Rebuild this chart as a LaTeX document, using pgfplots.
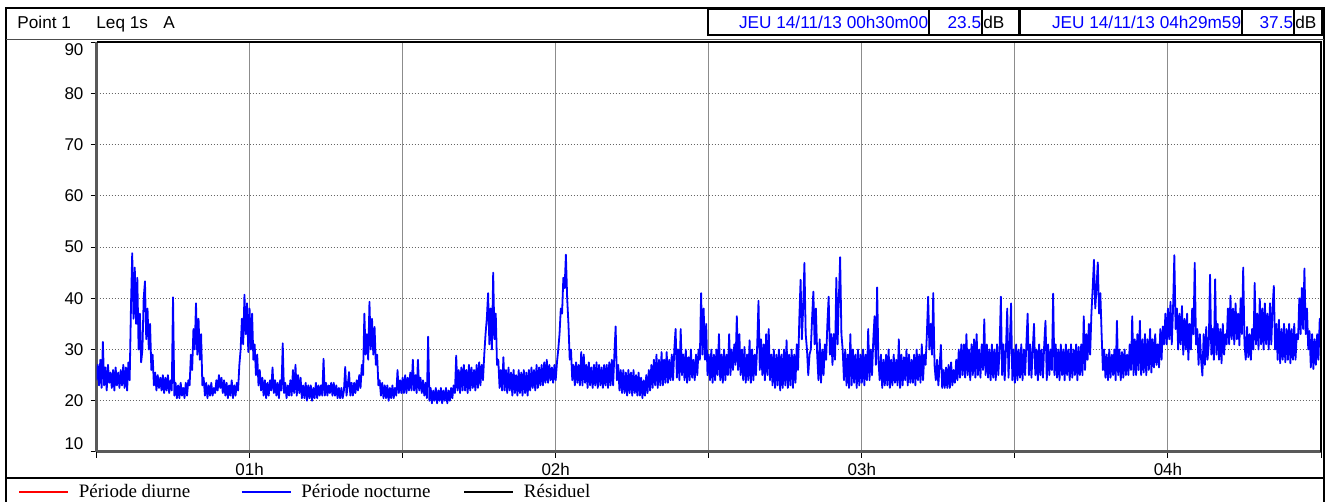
\documentclass[border=0pt]{standalone}
\usepackage{pgfplots}
\pgfplotsset{compat=1.18}
\usepackage{pgfplotstable}
\usepackage{fontspec}
\setmainfont{Liberation Sans}
\newfontfamily\legfont{Liberation Serif}

% Leq 1s A, one value every 15 s from 00h30 (minute 30) to 04h30 (minute 270)
\pgfplotstableread[row sep=\\]{
L\\
24\\27\\23\\28\\22.5\\31.5\\23\\26.5\\22\\27\\23.5\\25.5\\22.5\\26\\22\\26.5\\23\\25.5\\22.5\\26\\
23\\27\\22.5\\26.5\\22\\27.5\\24\\38\\48.8\\36\\46\\35\\44\\30\\37\\27.5\\30\\40\\43.3\\32\\
38\\30\\35\\26\\29\\23\\25.5\\22\\25\\22.5\\24.5\\22\\25\\21.5\\24.5\\22\\25\\21.5\\24\\22\\
40.2\\21\\23.5\\20.5\\23\\20.5\\23.5\\21\\22.5\\20.5\\23.5\\21\\24\\23\\29\\26\\34\\30\\39\\29\\
36\\28\\33\\23\\24.5\\21\\23.5\\20.5\\23\\21\\23.5\\21\\22.5\\21.5\\24\\22\\25\\22.5\\24.5\\21.5\\
24\\21\\23.5\\20.5\\23\\21\\24\\20.5\\23\\21\\23.5\\22\\27\\30\\36\\31\\40.7\\33\\39\\29.5\\
38\\30\\37\\28\\31\\25\\29\\23\\26\\22\\24.5\\21\\24\\20.5\\23.5\\21\\24\\22\\26.5\\21.5\\
24\\21\\23.5\\20.5\\24\\22\\31.2\\21.5\\23.5\\20.5\\23\\21\\24\\21\\26\\21.5\\27\\21\\25\\21.5\\
24.5\\20.5\\23\\20.5\\23.5\\20\\23\\20.5\\23\\20\\22.5\\20.5\\23.5\\20.5\\23\\21\\23\\21\\28.2\\21\\
23.5\\21\\23\\21.5\\23.5\\21\\23.5\\21\\23\\20.5\\22.5\\20.5\\22.5\\20.5\\22\\26.6\\21\\23\\25.6\\21\\
23.5\\21\\23.5\\21.5\\24\\22\\25\\22.5\\27\\25\\37\\29\\33\\28\\39.3\\30\\36\\29\\34.4\\27\\
29\\23\\24\\21\\23.5\\20.5\\23\\20.5\\23\\20\\22.5\\20.5\\23\\20.5\\22.5\\21\\26\\21.5\\24\\21.5\\
24.5\\21.5\\25\\21.5\\24.5\\22\\25.5\\22\\28\\22\\25\\21.5\\28\\22\\24.5\\21.5\\24\\21\\23.5\\20.5\\
32.5\\20\\22.5\\19.5\\22\\20\\22.5\\19.5\\22\\20\\22.5\\19.5\\22\\20\\22.5\\19.5\\22\\20\\22.5\\20.5\\
23\\21.5\\28.8\\22\\26\\21.5\\26.5\\22\\27\\22\\26\\21.5\\27\\22\\26.5\\22.5\\26\\22\\27\\22.5\\
27.5\\23\\27\\24\\29\\33\\36\\41\\31\\38\\30\\45\\32\\37\\27\\28\\22.5\\26\\22\\28.5\\
22\\26\\21.5\\26.5\\22\\25.5\\21\\26\\21.5\\25\\21\\26\\21.5\\25.5\\21\\26\\21.5\\25.5\\21\\26\\
22\\26.5\\22.5\\26\\22\\27\\22.5\\26.5\\23\\27\\23\\27.5\\23.5\\28\\23.5\\27\\24\\26.5\\23.5\\27\\
24\\27.5\\30\\33\\38\\37\\44\\42\\48.5\\40\\35\\28\\30\\24\\27\\23\\27.5\\23.5\\27\\23\\
29.5\\23\\29\\23.5\\27\\22.5\\27.5\\23\\26.5\\22.5\\27\\23\\27.5\\22.5\\27\\23\\26.5\\22.5\\27\\23\\
27\\22.5\\27.5\\23\\28\\23\\29\\34.5\\24\\27\\22\\26\\21.5\\26\\21.5\\25.5\\21\\26\\21.5\\25.5\\
21\\26\\21.5\\25\\21\\25.5\\21\\24.5\\20.5\\24\\21\\25\\21.5\\26\\22\\27\\22.5\\28\\23\\29\\
22.5\\28\\23\\29.5\\23\\28\\23.5\\29.5\\23.5\\28\\24\\29\\24\\30\\34\\24.5\\30\\24\\34\\25\\
29\\24\\30\\23.5\\28.5\\24\\30\\24.5\\28\\24\\29\\25\\30\\28\\41\\29\\38\\28\\35\\25\\
29\\24\\30\\23.5\\29\\24\\30\\25\\33\\24\\29\\23.5\\30\\24\\29\\25\\33\\25\\30\\26\\
31\\27\\36.5\\26\\33\\25\\30\\24\\30.5\\23.5\\29\\24\\31.8\\23.5\\30\\24\\29\\25\\31\\39.5\\
26\\32\\25\\31\\24\\33\\25\\34\\24\\29\\23\\30\\22.5\\29\\23\\30\\22\\29\\22.5\\30\\
23\\31.8\\22.5\\29\\23\\30\\22.5\\29\\23.5\\31\\26\\36\\43.6\\32\\38\\46.9\\33\\30\\25\\29\\
30\\36\\41.3\\31\\38\\29\\24\\32\\23.5\\30\\25\\31\\28\\35\\40.3\\29\\33\\27\\33\\28\\
44\\31\\40\\48\\33\\30\\24\\30\\23\\29\\22.5\\33\\23\\30\\23.5\\29\\22.5\\30\\23\\29\\
23.5\\30\\23\\29\\24\\34\\24\\30\\25\\32\\36.5\\27\\42.1\\28\\24\\29\\22.5\\28\\23\\29\\
23\\30\\22.5\\28\\23\\29\\23.5\\28\\23\\32\\22.5\\29\\23\\28.5\\24\\30\\23\\29\\23.5\\28\\
23.5\\29\\23\\30\\24\\29\\23.5\\31\\24\\29\\27\\33\\40.3\\30\\35\\29\\41\\27\\24\\28\\
23\\27\\30.9\\22.5\\26\\22.5\\26.5\\22.5\\27\\22.5\\27.5\\23\\26\\23.5\\28\\24\\30\\24.5\\31\\25\\
31\\24.5\\33\\25\\30\\24\\31\\25\\32\\24.5\\33\\25\\30\\24.5\\31\\26\\35.9\\25\\31\\24.5\\
30\\24\\31\\24.5\\30\\24\\31\\25\\30\\40.3\\25\\31\\24\\30\\38\\24.5\\31\\39\\24\\30\\
23.5\\31\\24\\30\\24.5\\31\\24\\30\\25\\31\\37\\25\\31\\24.5\\30\\35\\25\\30\\24\\31\\
25\\30\\24.5\\31\\35.6\\24\\31\\25\\30\\26\\40.9\\25\\31\\24.5\\30\\24\\31\\25\\30\\24\\
31\\25\\30\\24\\31\\24.5\\30\\25\\31\\24\\30.5\\25\\31\\25\\36.5\\26\\33\\28\\35\\29\\
37\\42\\47.5\\38\\42\\47\\37\\41\\33\\26\\30\\24.5\\29\\24\\30\\24.5\\29\\25\\30\\24\\
35.6\\25\\30\\24\\29.5\\24.5\\30\\25\\29\\25\\31\\26\\36.5\\25\\32\\25\\33\\26\\35.6\\25\\
32\\25.5\\33\\25\\32\\26\\34\\25.5\\32\\26.5\\33\\27\\31\\26.5\\34\\28\\34.5\\31\\37\\31\\
38\\32\\39.3\\31\\38\\48.4\\34\\38\\30\\37\\31\\38.5\\29\\36\\30\\37\\28\\35\\30\\38\\
33\\46.9\\31\\34\\27\\33\\28\\24.9\\33\\27\\34.4\\28\\31\\44.6\\29\\34\\28\\43.7\\29\\35\\
28\\34\\27.3\\35\\29\\33\\31\\38\\31\\40.5\\32\\38\\31\\39\\32\\37\\30.8\\40\\33\\46\\
31\\28\\34.4\\28.5\\33\\28\\34\\30\\43\\31\\37\\30\\39.9\\31\\38\\30\\39\\31\\37\\30\\
39\\31\\38\\42.4\\30\\35\\28\\35.8\\27.3\\34\\28\\35\\27.5\\34\\28\\35\\27.3\\34\\28\\35\\
28\\33\\32\\40\\33\\42\\34\\45.8\\33\\38\\30\\33.6\\26.5\\33\\26.2\\32\\27\\33\\28\\36\\
32\\
}\noct

\begin{document}
\begin{tikzpicture}[x=0.5pt,y=0.5pt]
\useasboundingbox (0,0) rectangle (1332,502);
\begin{axis}[
  name=ax, at={(48.25pt,25pt)}, anchor=south west,
  scale only axis, width=612.25pt, height=205pt,
  xmin=30, xmax=270, ymin=10, ymax=90,
  axis x line*=bottom, axis y line*=left,
  axis line style={black!65, line width=1.5pt},
  xtick={30,60,...,270}, xticklabels={,01h,,02h,,03h,,04h,},
  ytick={10,20,...,90},
  yticklabels={{\raisebox{4pt}[\height][\depth]{10}},20,30,40,50,60,70,80,{\raisebox{-4pt}[\height][\depth]{90}}},
  tick align=outside, major tick length=3pt,
  tick style={black, line width=0.5pt},
  xmajorgrids, ymajorgrids,
  x grid style={black!45, line width=0.5pt},
  y grid style={black!60, line width=0.5pt, densely dotted},
  tick label style={font=\fontsize{8.5}{10}\selectfont},
  xticklabel style={yshift=1pt},
  /pgf/number format/assume math mode=true,
  legend columns=3,
  legend style={at={(axis description cs:-0.0641,-0.0976)}, anchor=west,
    draw=none, fill=none, inner sep=0pt,
    font={\legfont\fontsize{9.5}{11}\selectfont},
    nodes={inner sep=0pt},
    /tikz/every odd column/.append style={column sep=5pt},
    /tikz/every even column/.append style={column sep=0pt}},
  legend image code/.code={\draw[#1, line width=0.75pt] (0pt,0pt) -- (24.5pt,0pt);},
]
\addlegendimage{red}
\addlegendentry{\makebox[81pt][l]{Période diurne}}
\addplot[color={rgb,255:red,0;green,0;blue,255}, line width=0.9pt, line join=round] table[x expr={30+\coordindex*0.25}, y=L] {\noct};
\addlegendentry{\makebox[81pt][l]{Période nocturne}}
\addlegendimage{black}
\addlegendentry{\makebox[81pt][l]{Résiduel}}
\end{axis}
% plot top and right borders
\draw[black, line width=0.75pt] (ax.north west) -- (ax.north east) -- (ax.south east);
% outer frame
\draw[black, line width=1pt] (6,-5) -- (6,494) -- (1323.5,494) -- (1323.5,-5);
\draw[black!70, line width=0.75pt] (6,462.5) -- (1323.5,462.5);
\draw[black, line width=1pt] (6,24) -- (1323.5,24);
% header boxes
\begin{scope}[line width=0.75pt]
\draw (708,467) rectangle (929,493);
\draw (929,467) rectangle (982,493);
\draw (982,467) rectangle (1019,493);
\draw (1020,467) rectangle (1242,493);
\draw (1242,467) rectangle (1294,493);
\draw (1294,467) rectangle (1322,493);
\end{scope}
\begin{scope}[every node/.style={inner sep=0pt, font=\fontsize{8.6}{10}\selectfont}]
\node[anchor=base west] at (17,473) {Point 1};
\node[anchor=base west] at (96,473) {Leq 1s};
\node[anchor=base west] at (163,473) {A};
\node[anchor=base east, text={rgb,255:red,0;green,0;blue,255}] at (928.5,473) {JEU 14/11/13 00h30m00};
\node[anchor=base east, text={rgb,255:red,0;green,0;blue,255}] at (981.5,473) {23.5};
\node[anchor=base west] at (983,473) {dB};
\node[anchor=base east, text={rgb,255:red,0;green,0;blue,255}] at (1241.5,473) {JEU 14/11/13 04h29m59};
\node[anchor=base east, text={rgb,255:red,0;green,0;blue,255}] at (1293.5,473) {37.5};
\node[anchor=base west] at (1295,473) {dB};
\end{scope}
\end{tikzpicture}
\end{document}
